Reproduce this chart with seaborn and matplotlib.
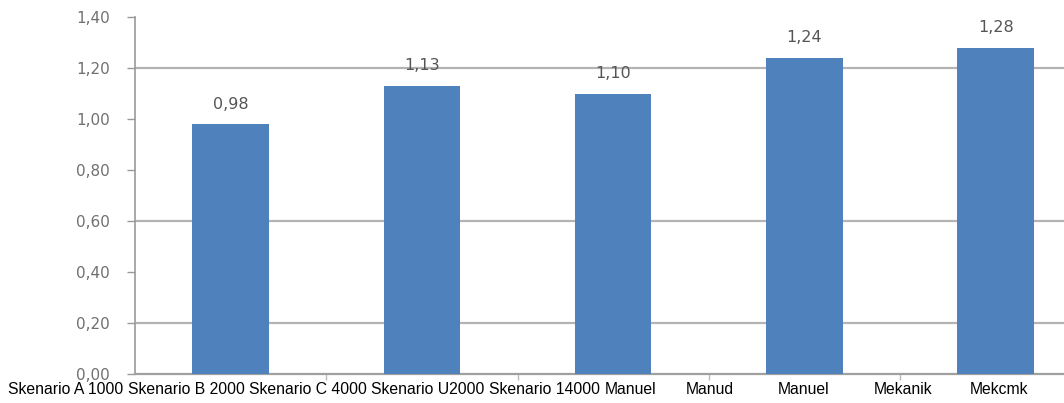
import pandas as pd
import matplotlib.pyplot as plt
import seaborn as sns
from matplotlib.ticker import FixedLocator

# Data
bar_groups = ["A", "B", "C", "D", "E"]
bar_values = [0.98, 1.13, 1.10, 1.24, 1.28]
y_ticks = [0.0, 0.2, 0.4, 0.6, 0.8, 1.0, 1.2, 1.4]
x_labels = [
    "Skenario A 1000",
    "Skenario B 2000",
    "Skenario C 4000",
    "Skenario U2000",
    "Skenario 14000",
    "Manuel",
    "Manud",
    "Manuel",
    "Mekanik",
    "Mekcmk",
]

# left edge (pixels) of each bottom label, as laid out in the picture
label_left_px = [8, 128, 249, 371, 489, 605, 686, 778, 874, 970]
grid_at = [0.2, 0.6, 1.2]

W, H = 1064, 403
BLUE = "#4F81BD"
GREY_TXT = "#707070"


def comma(v):
    return f"{v:.2f}".replace(".", ",")


def main():
    sns.set_style("white")
    plt.rcParams["font.family"] = ["DejaVu Sans"]

    df = pd.DataFrame({"group": bar_groups, "value": bar_values})

    fig = plt.figure(figsize=(W / 100, H / 100), dpi=100)
    ax = fig.add_axes([135 / W, 1 - 374 / H, 1 - 135 / W, (374 - 17) / H])

    sns.barplot(data=df, x="group", y="value", color=BLUE, width=0.4,
                saturation=1, linewidth=0, ax=ax, zorder=3)

    for g in grid_at:
        ax.axhline(g, color="#b3b3b3", lw=1.6, zorder=1)

    ax.set_ylim(0, 1.4)
    ax.set_xlim(-0.5, (W - 230.5) / 191.3)
    ax.set_yticks(y_ticks)
    ax.set_yticklabels([comma(t) for t in y_ticks], color=GREY_TXT, fontsize=11)
    ax.tick_params(axis="y", direction="out", length=6, width=1,
                   color="#999999", pad=12, left=True)

    # category boundary ticks on x axis, no labels there
    ax.set_xticks([])
    ax.xaxis.set_minor_locator(FixedLocator([i + 0.5 for i in range(len(bar_groups))]))
    ax.tick_params(axis="x", which="minor", direction="out", length=4,
                   width=1, color="#bbbbbb", bottom=True)
    ax.set_xlabel("")
    ax.set_ylabel("")

    for s in ["top", "right"]:
        ax.spines[s].set_visible(False)
    ax.spines["left"].set_color("#999999")
    ax.spines["bottom"].set_color("#a0a0a0")
    ax.spines["left"].set_linewidth(1.2)
    ax.spines["bottom"].set_linewidth(1.6)

    ax.bar_label(ax.containers[0], labels=[comma(v) for v in bar_values],
                 padding=9, color="#555555", fontsize=11.5)

    # bottom text row
    for lab, px in zip(x_labels, label_left_px):
        fig.text(px / W, 1 - 390 / H, lab, ha="left", va="center",
                 fontsize=11.3, family=["Liberation Sans", "DejaVu Sans"],
                 color="black")

    fig.savefig("out.png", dpi=100)


if __name__ == "__main__":
    main()
